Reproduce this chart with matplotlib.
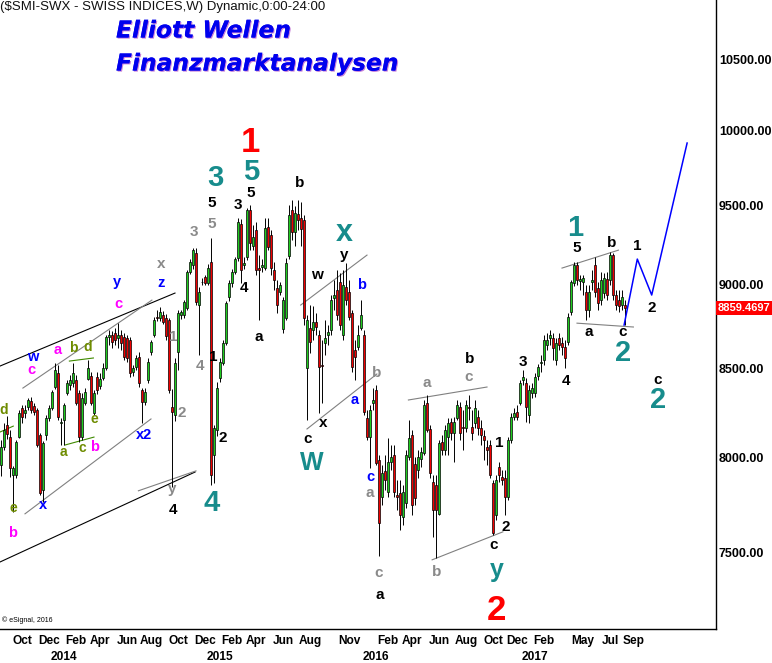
import numpy as np
import pandas as pd
import matplotlib
matplotlib.use('Agg')
import matplotlib.pyplot as plt
import matplotlib.patheffects as pe
from matplotlib import font_manager
from matplotlib.ticker import NullLocator, FixedLocator, FixedFormatter
from matplotlib.transforms import blended_transform_factory

plt.rcParams['font.family'] = ['Liberation Sans', 'DejaVu Sans']

# Weekly candles of $SMI-SWX (one value per week)
first_week = '2013-08-16'

opens = [
    7960, 8060, 8180, 8110, 7905, 7905, 8112, 8274, 8246, 8280,
    8314, 8285, 8263, 8123, 7825, 8124, 8218, 8274, 8394, 8475,
    8190, 8207, 8360, 8406, 8417, 8434, 8360, 8112, 8303, 8440,
    8460, 8246, 8452, 8400, 8446, 8503, 8686, 8698, 8710, 8680,
    8698, 8686, 8680, 8668, 8480, 8509, 8568, 8377, 8308, 8434,
    8600, 8700, 8806, 8796, 8817, 8796, 8786, 8283, 8235, 8600,
    8817, 8817, 8857, 9082, 9123, 9200, 8877, 9020, 9046, 9010,
    9143, 8016, 8151, 8445, 8535, 8649, 8927, 9010, 9082, 9164,
    9381, 9120, 9170, 9471, 9245, 9343, 9102, 9110, 9102, 9360,
    9311, 9092, 8980, 8956, 8733, 8800, 9177, 9471, 9330, 9446,
    9420, 9407, 8505, 8737, 8727, 8776, 8698, 8520, 8649, 8698,
    8727, 8920, 8968, 9020, 8698, 8985, 8955, 8827, 8609, 8626,
    8737, 8698, 8218, 8112, 8303, 8377, 7986, 7787, 7925, 7815,
    7975, 8016, 7800, 7810, 7680, 7755, 8005, 8123, 7965, 7932,
    7990, 8025, 8303, 8157, 7867, 7851, 7697, 8085, 8041, 8112,
    8196, 8134, 8218, 8280, 8168, 8163, 8280, 8168, 8190, 8224,
    8163, 8118, 8057, 8068, 7862, 7692, 7948, 7894, 7889, 7787,
    8096, 8224, 8252, 8303, 8434, 8417, 8235, 8360, 8360, 8458,
    8532, 8550, 8638, 8680, 8680, 8550, 8680, 8650, 8626, 8658,
    8837, 9012, 9123, 9024, 9018, 8956, 8847, 9018, 9123, 8980,
    8907, 8950, 9036, 9030, 9185, 8938, 8907, 8877, 8877,
]
highs = [
    8096, 8190, 8230, 8150, 7955, 8096, 8263, 8291, 8291, 8331,
    8337, 8302, 8274, 8134, 8090, 8235, 8290, 8377, 8532, 8520,
    8218, 8302, 8434, 8463, 8532, 8463, 8377, 8360, 8388, 8550,
    8480, 8377, 8480, 8475, 8532, 8698, 8727, 8720, 8740, 8768,
    8727, 8710, 8700, 8686, 8520, 8580, 8597, 8388, 8388, 8560,
    8670, 8806, 8850, 8867, 8840, 8820, 8800, 8380, 8560, 8847,
    8850, 8910, 9092, 9160, 9230, 9230, 8990, 9040, 9060, 9130,
    9290, 8180, 8420, 8560, 8670, 8900, 9030, 9100, 9170, 9420,
    9413, 9170, 9485, 9504, 9375, 9394, 9185, 9160, 9420, 9420,
    9343, 9141, 9030, 9020, 8925, 9166, 9504, 9536, 9500, 9536,
    9523, 9440, 8817, 8877, 8871, 8829, 8727, 8668, 8786, 8757,
    8938, 9030, 9092, 9076, 9092, 9135, 9030, 8847, 8668, 8757,
    8907, 8727, 8263, 8291, 8388, 8406, 8013, 7959, 8013, 8107,
    8068, 8068, 7878, 7878, 7851, 8041, 8207, 8151, 8002, 8041,
    8060, 8320, 8349, 8179, 7905, 7905, 8096, 8123, 8179, 8218,
    8218, 8224, 8320, 8309, 8263, 8320, 8349, 8263, 8320, 8263,
    8207, 8151, 8096, 8096, 7878, 7905, 7975, 7932, 7932, 8112,
    8246, 8274, 8291, 8434, 8492, 8446, 8406, 8417, 8475, 8527,
    8580, 8698, 8709, 8727, 8709, 8680, 8709, 8686, 8668, 8829,
    9030, 9141, 9141, 9061, 9061, 9000, 9000, 9092, 9173, 9018,
    9080, 9073, 9080, 9204, 9197, 8968, 8968, 8968, 8907,
]
lows = [
    7900, 8040, 8100, 7894, 7708, 7890, 8107, 8190, 8218, 8263,
    8246, 8235, 8057, 7798, 7761, 8096, 8200, 8263, 8380, 8207,
    8068, 8068, 8349, 8377, 8394, 8291, 8085, 8096, 8291, 8434,
    8291, 8235, 8354, 8380, 8434, 8492, 8638, 8620, 8640, 8620,
    8609, 8550, 8538, 8452, 8460, 8492, 8394, 8190, 8291, 8415,
    8580, 8688, 8780, 8780, 8760, 8670, 8360, 7842, 8200, 8492,
    8790, 8800, 8847, 9070, 9100, 8880, 8580, 9000, 9000, 9000,
    7851, 7860, 8120, 8420, 8520, 8640, 8900, 8990, 9070, 9150,
    9010, 9100, 9154, 9216, 9216, 9060, 8786, 9080, 9092, 9216,
    9061, 8968, 8829, 8940, 8709, 8786, 9160, 9279, 9245, 9343,
    9245, 8757, 8207, 8591, 8668, 8698, 8246, 8303, 8580, 8638,
    8698, 8847, 8786, 8727, 8668, 8877, 8786, 8480, 8434, 8609,
    8727, 8235, 8096, 7943, 8263, 7959, 7480, 7745, 7825, 7788,
    7932, 7788, 7719, 7614, 7640, 7730, 7986, 7692, 7745, 7889,
    7950, 8013, 8140, 7889, 7578, 7470, 7692, 8013, 8013, 8013,
    8096, 7975, 8207, 8096, 8041, 8140, 8207, 8096, 8162, 8123,
    8068, 7986, 7959, 7889, 7588, 7666, 7867, 7851, 7692, 7771,
    8079, 8207, 8207, 8291, 8406, 8196, 8190, 8331, 8337, 8434,
    8480, 8521, 8609, 8638, 8550, 8521, 8609, 8580, 8503, 8638,
    8817, 8993, 9000, 8968, 8938, 8786, 8805, 8968, 8925, 8847,
    8877, 8919, 8907, 9000, 8907, 8847, 8835, 8847, 8757,
]
closes = [
    8060, 8150, 8130, 7945, 7940, 8085, 8246, 8224, 8263, 8320,
    8263, 8252, 8068, 7809, 8079, 8218, 8274, 8366, 8492, 8224,
    8195, 8291, 8417, 8434, 8475, 8303, 8112, 8331, 8366, 8503,
    8303, 8360, 8377, 8440, 8503, 8686, 8700, 8656, 8668, 8700,
    8650, 8568, 8562, 8475, 8503, 8562, 8417, 8308, 8366, 8541,
    8658, 8786, 8800, 8837, 8776, 8690, 8377, 8250, 8531, 8831,
    8837, 8897, 9082, 9143, 9216, 8897, 8958, 9015, 9010, 9102,
    7905, 8160, 8387, 8541, 8649, 8887, 9010, 9082, 9158, 9396,
    9092, 9133, 9471, 9258, 9296, 9092, 9092, 9123, 9354, 9233,
    9102, 9030, 8877, 9000, 8907, 9133, 9440, 9330, 9455, 9407,
    9350, 8800, 8786, 8658, 8776, 8747, 8509, 8515, 8680, 8717,
    8907, 8940, 8817, 8757, 9000, 8907, 8806, 8509, 8568, 8698,
    8817, 8252, 8112, 8263, 8320, 7970, 7650, 7915, 7880, 7975,
    8005, 7815, 7787, 7690, 7815, 8016, 8107, 7745, 7782, 8005,
    8030, 8291, 8151, 7916, 7719, 7719, 8080, 8041, 8151, 8190,
    8134, 8196, 8291, 8134, 8163, 8291, 8274, 8134, 8274, 8163,
    8123, 8096, 8041, 7905, 7599, 7878, 7905, 7878, 7787, 8096,
    8224, 8246, 8224, 8417, 8452, 8280, 8377, 8388, 8452, 8509,
    8538, 8668, 8668, 8698, 8620, 8649, 8638, 8626, 8562, 8806,
    9018, 9123, 9030, 9036, 9042, 8847, 8956, 9030, 8956, 8889,
    9030, 9042, 8938, 9185, 8938, 8877, 8871, 8925, 8859,
]
last_price = 8859.4697

# projected path (blue), in week index / price
proj_week = [207.7, 212.1, 216.9, 228.7]
proj_price = [8757, 9160, 8938, 9915]

month_ticks = ['2013-10', '2013-12', '2014-02', '2014-04', '2014-06', '2014-08',
               '2014-10', '2014-12', '2015-02', '2015-04', '2015-06', '2015-08',
               '2015-11', '2016-02', '2016-04', '2016-06', '2016-08', '2016-10',
               '2016-12', '2017-02', '2017-05', '2017-07', '2017-09']
year_ticks = ['2014', '2015', '2016', '2017']
price_ticks = [7500, 8000, 8500, 9000, 9500, 10000, 10500]

# Elliott wave counts: text, week index, price, style
wave_labels = [
    ('d', 1.0, 8263, 'olive'), ('e', 4.0, 7730, 'olive'), ('b', 4.0, 7599, 'magenta'),
    ('x', 14.0, 7745, 'blue'), ('w', 10.7, 8568, 'blue'), ('c', 10.3, 8492, 'magenta'),
    ('a', 19.0, 8609, 'magenta'), ('b', 24.0, 8621, 'olive'), ('d', 29.0, 8627, 'olive'),
    ('a', 20.7, 8030, 'olive'), ('c', 27.0, 8052, 'olive'), ('b', 31.3, 8057, 'magenta'),
    ('e', 31.0, 8213, 'olive'), ('x2', 47.7, 8123, 'blue'), ('y', 38.7, 9018, 'blue'),
    ('c', 39.0, 8883, 'magenta'), ('x', 53.3, 9129, 'gray'), ('z', 53.3, 9012, 'blue'),
    ('1', 57.3, 8686, 'gray'), ('2', 60.3, 8246, 'gray'), ('y', 57.0, 7830, 'gray'),
    ('4', 57.3, 7719, 'black'), ('4', 70.3, 7755, 'teal'), ('4', 66.3, 8515, 'gray'),
    ('1', 70.7, 8568, 'black'), ('2', 74.0, 8107, 'black'), ('4', 81.0, 8980, 'black'),
    ('a', 86.0, 8686, 'black'), ('1', 83.0, 9922, 'red'), ('5', 83.3, 9721, 'teal'),
    ('3', 71.3, 9681, 'teal'), ('5', 70.3, 9517, 'black'), ('5', 70.3, 9382, 'gray'),
    ('3', 64.3, 9330, 'gray'), ('3', 79.0, 9504, 'black'), ('5', 83.3, 9582, 'black'),
    ('b', 99.7, 9648, 'black'), ('x', 114.3, 9324, 'tealx'), ('y', 114.3, 9185, 'black'),
    ('w', 105.3, 9061, 'black'), ('b', 120.3, 9000, 'blue'), ('c', 102.3, 8101, 'black'),
    ('W', 103.7, 7970, 'teall'), ('x', 107.3, 8190, 'black'), ('a', 118.0, 8320, 'blue'),
    ('b', 125.3, 8475, 'gray'), ('c', 123.0, 7894, 'blue'), ('a', 123.0, 7809, 'gray'),
    ('c', 126.0, 7394, 'gray'), ('a', 126.3, 7284, 'black'), ('a', 142.0, 8417, 'gray'),
    ('b', 145.3, 7399, 'gray'), ('b', 156.3, 8556, 'black'), ('c', 156.0, 8452, 'gray'),
    ('1', 166.0, 8079, 'black'), ('c', 164.3, 7537, 'black'), ('2', 168.3, 7630, 'black'),
    ('y', 165.3, 7409, 'teall'), ('2', 165.3, 7208, 'red'), ('3', 174.0, 8538, 'black'),
    ('4', 188.3, 8429, 'black'), ('1', 191.3, 9356, 'teal'), ('5', 192.0, 9227, 'black'),
    ('b', 203.7, 9258, 'black'), ('a', 196.0, 8715, 'black'), ('c', 207.3, 8715, 'black'),
    ('2', 207.3, 8591, 'teal'), ('1', 212.0, 9245, 'black'), ('2', 217.0, 8859, 'black'),
    ('c', 219.0, 8434, 'black'), ('2', 219.0, 8320, 'teal'),
]

# trend lines: (week, price) -> (week, price), colour
trend_lines = [
    ((-0.33, 7449), (64.7, 7921), 'black'),
    ((-0.33, 8515), (58.0, 8950), 'black'),
    ((7.3, 8388), (50.3, 8907), 'gray'),
    ((8.0, 7698), (50.0, 8213), 'gray'),
    ((22.8, 8544), (30.8, 8562), 'olive'),
    ((21.3, 8068), (31.0, 8112), 'olive'),
    ((-0.33, 8140), (4.1, 8173), 'olive'),
    ((45.8, 7820), (65.0, 7927), 'gray'),
    ((99.9, 8877), (122.0, 9185), 'gray'),
    ((102.0, 8157), (125.3, 8469), 'gray'),
    ((135.8, 8320), (162.0, 8394), 'gray'),
    ((143.7, 7460), (167.3, 7604), 'gray'),
    ((187.0, 9104), (205.8, 9216), 'gray'),
    ((192.0, 8768), (210.8, 8745), 'gray'),
]

styles = {
    'red': ('#ff0000', 25),
    'teal': ('#178c8c', 21),
    'tealx': ('#178c8c', 22),
    'teall': ('#178c8c', 18),
    'black': ('black', 11),
    'gray': ('#8a8a8a', 11),
    'blue': ('#0000ff', 10.5),
    'magenta': ('#ff00ff', 10.5),
    'olive': ('#6e8c00', 10),
}
line_colors = {'black': 'black', 'gray': '#808080', 'olive': '#3f8a00'}

o = np.array(opens, float)
h = np.array(highs, float)
l = np.array(lows, float)
c = np.array(closes, float)
x = np.arange(len(c))
weeks = pd.date_range(first_week, periods=260, freq='W-FRI')
week_months = weeks.to_period('M')


def week_of(period):
    return int(np.argmax(week_months == pd.Period(period, 'M')))


fig = plt.figure(figsize=(7.72, 6.63), dpi=100)
ax = fig.add_axes([0, 34 / 663, 716 / 772, 629 / 663])
ax.set_yscale('log')
ax.set_ylim(7116, 10932)
ax.set_xlim(-0.33, 238.33)

# candles
ax.vlines(x, l, h, color='black', lw=0.7, zorder=2)
up = c >= o
body_low = np.minimum(o, c)
body_h = np.maximum(np.abs(c - o), 1.0)
ax.bar(x[up], body_h[up], bottom=body_low[up], width=0.66, color='#1fcc1f',
       edgecolor='black', linewidth=0.5, zorder=3)
ax.bar(x[~up], body_h[~up], bottom=body_low[~up], width=0.66, color='#f00000',
       edgecolor='black', linewidth=0.5, zorder=3)

# projection
ax.plot(proj_week, proj_price, color='#0000ff', lw=1.1, zorder=4)

for (x0, p0), (x1, p1), col in trend_lines:
    ax.plot([x0, x1], [p0, p1], color=line_colors[col], lw=0.8, zorder=1)

for txt, wx, wp, st in wave_labels:
    col, size = styles[st]
    ax.text(wx, wp, txt, color=col, fontsize=size, fontweight='bold',
            ha='center', va='center', zorder=5)

# axes, ticks
for side in ['left', 'top']:
    ax.spines[side].set_visible(False)
ax.spines['right'].set_linewidth(1.0)
ax.spines['bottom'].set_linewidth(1.0)

ax.yaxis.tick_right()
ax.yaxis.set_major_locator(FixedLocator(price_ticks))
ax.yaxis.set_major_formatter(FixedFormatter([f'{p:.2f}' for p in price_ticks]))
ax.yaxis.set_minor_locator(NullLocator())
ax.tick_params(axis='y', length=0, pad=2, labelsize=9)
for lab in ax.get_yticklabels():
    lab.set_fontweight('bold')

fams = {f.name for f in font_manager.fontManager.ttflist}
if 'Liberation Sans Narrow' in fams:
    date_font = dict(family=['Liberation Sans Narrow', 'DejaVu Sans'], size=10, weight='bold')
else:
    date_font = dict(family=['Liberation Sans', 'DejaVu Sans'], size=8.6, weight='bold')

ax.set_xticks([week_of(m) for m in month_ticks])
ax.set_xticklabels([pd.Period(m, 'M').strftime('%b') for m in month_ticks], fontdict=date_font)
ax.tick_params(axis='x', length=0, pad=4)
xt = blended_transform_factory(ax.transData, ax.transAxes)
for yr in year_ticks:
    ax.text(week_of(yr + '-01') + 1, -0.0445, yr, transform=xt, ha='center', va='center',
            fontdict=date_font, clip_on=False)

# last price tag
yt = blended_transform_factory(ax.transAxes, ax.transData)
ax.text(1.002, last_price, f'{last_price:.4f}', transform=yt, ha='left', va='center',
        color='white', fontsize=8, fontweight='bold', clip_on=False,
        bbox=dict(boxstyle='square,pad=0.15', fc='#ff0000', ec='none'))

# header texts
fig.text(0.0, 1 - 7 / 663, '($SMI-SWX - SWISS INDICES,W) Dynamic,0:00-24:00',
         fontsize=9.5, ha='left', va='center', color='#111111')
shadow = [pe.withSimplePatchShadow(offset=(0.8, -0.8), shadow_rgbFace='#9000b0', alpha=0.5),
          pe.Normal()]
for txt, ypx in [('Elliott Wellen', 31), ('Finanzmarktanalysen', 64)]:
    fig.text(116 / 772, 1 - ypx / 663, txt, family='DejaVu Sans', fontsize=16.8,
             fontweight='bold', style='italic', color='#0000ee', ha='left', va='center',
             path_effects=shadow)

ax.text(0.003, 0.014, '\u00a9 eSignal, 2016', transform=ax.transAxes, fontsize=5,
        ha='left', va='center')

fig.savefig('out.png', dpi=100)
